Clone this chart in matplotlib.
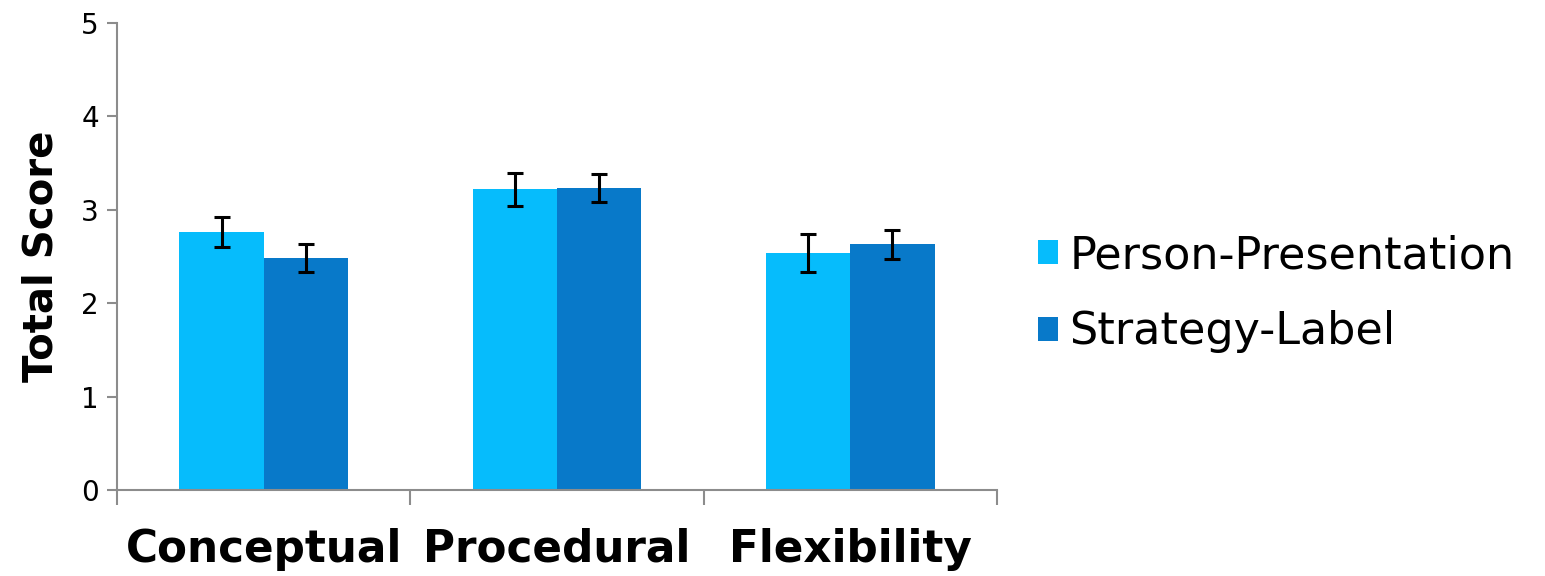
import matplotlib
matplotlib.use('Agg')
import matplotlib.pyplot as plt
import numpy as np

# Data
categories = ['Conceptual', 'Procedural', 'Flexibility']
series_names = ['Person-Presentation', 'Strategy-Label']
person_presentation = [2.76, 3.22, 2.54]
strategy_label = [2.48, 3.23, 2.63]
pp_err = [0.16, 0.175, 0.2]
sl_err = [0.15, 0.15, 0.155]

colors = ['#06BCFC', '#0879C9']
axis_grey = '#8C8C8C'

plt.rcParams['font.family'] = ['DejaVu Sans']

fig = plt.figure(figsize=(15.45, 5.76), dpi=100)
ax = fig.add_axes([0.0757, 0.149, 0.5696, 0.811])

x = np.arange(len(categories))
width = 0.287
err_kw = dict(ecolor='black', elinewidth=2.2, capsize=6, capthick=2.2)

ax.bar(x - width / 2, person_presentation, width, yerr=pp_err, color=colors[0],
       label=series_names[0], error_kw=err_kw)
ax.bar(x + width / 2, strategy_label, width, yerr=sl_err, color=colors[1],
       label=series_names[1], error_kw=err_kw)

ax.set_xlim(-0.5, len(categories) - 0.5)
ax.set_ylim(0, 5)
ax.set_yticks(range(6))
ax.set_ylabel('Total Score', fontsize=29, fontweight='bold', labelpad=14)

# category labels centred, tick marks on the category boundaries
ax.set_xticks(x)
ax.set_xticklabels(categories, fontsize=31.5, fontweight='bold')
ax.set_xticks(np.arange(len(categories) + 1) - 0.5, minor=True)
ax.tick_params(axis='x', which='major', length=0, pad=27)
ax.tick_params(axis='x', which='minor', length=11, width=1.5, color=axis_grey, direction='out')
ax.tick_params(axis='y', length=7, width=1.5, color=axis_grey, labelsize=20, pad=6)

for side in ['top', 'right']:
    ax.spines[side].set_visible(False)
for side in ['left', 'bottom']:
    ax.spines[side].set_color(axis_grey)
    ax.spines[side].set_linewidth(1.5)

fig.legend(loc='center left', bbox_to_anchor=(0.672, 0.49), fontsize=32,
           frameon=False, borderpad=0, borderaxespad=0,
           handlelength=0.45, handleheight=0.45,
           handletextpad=0.25, labelspacing=0.75)

plt.savefig('out.png', dpi=100)
